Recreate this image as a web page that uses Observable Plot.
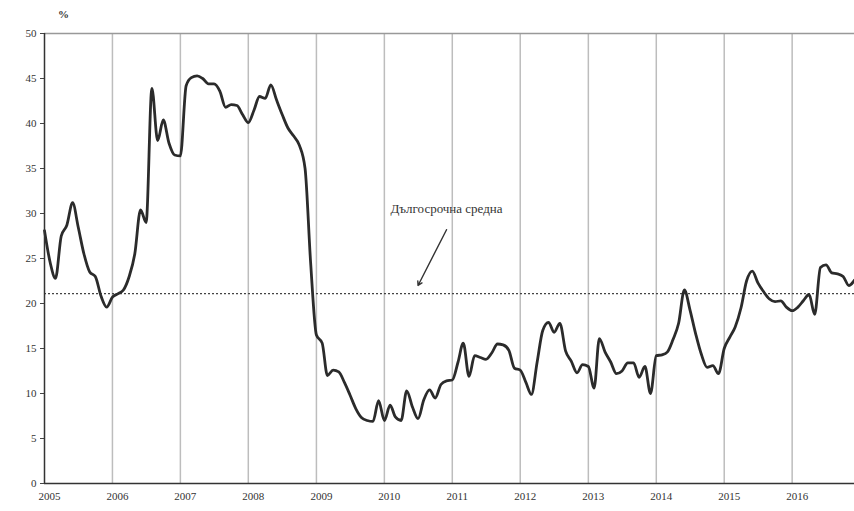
<!DOCTYPE html>
<html>
<head>
<meta charset="utf-8">
<script src="https://cdn.jsdelivr.net/npm/d3@7"></script>
<script src="https://cdn.jsdelivr.net/npm/@observablehq/plot@0.6"></script>
<style>
  html, body { margin: 0; padding: 0; background: #fff; }
  #chart { position: relative; width: 854px; height: 511px; }
  #pct { position: absolute; left: 58px; top: 8px; font: bold 11px "Liberation Serif", serif; color: #333; }
</style>
</head>
<body>
<div id="chart"><div id="pct">%</div></div>
<script>
// Monthly values, Jan 2005 .. Dec 2016 (%)
const startYear = 2005;
const values = [
  // 2005
  28.1, 24.5, 22.8, 27.5, 28.7, 31.2, 28.5, 25.5, 23.5, 23.0, 20.8, 19.6,
  // 2006
  20.7, 21.1, 21.5, 23.0, 25.5, 30.4, 29.0, 43.9, 38.1, 40.4, 37.8, 36.5,
  // 2007
  36.4, 44.2, 45.1, 45.3, 45.0, 44.4, 44.4, 43.6, 41.8, 42.1, 42.0, 41.0,
  // 2008
  40.1, 41.5, 43.0, 42.8, 44.3, 42.6, 41.0, 39.5, 38.6, 37.6, 35.0, 24.5,
  // 2009
  16.5, 15.6, 12.0, 12.6, 12.4, 11.2, 9.8, 8.3, 7.3, 7.0, 6.9, 9.2,
  // 2010
  7.0, 8.7, 7.4, 7.0, 10.3, 8.5, 7.2, 9.3, 10.4, 9.5, 11.0, 11.4,
  // 2011
  11.5, 13.5, 15.6, 11.9, 14.2, 14.0, 13.8, 14.5, 15.5, 15.4, 14.8, 12.8,
  // 2012
  12.6, 11.2, 9.9, 13.5, 17.0, 17.9, 16.8, 17.8, 14.7, 13.6, 12.3, 13.2,
  // 2013
  13.0, 10.6, 16.1, 14.6, 13.5, 12.2, 12.5, 13.4, 13.4, 11.8, 13.0, 10.0,
  // 2014
  14.2, 14.3, 14.6, 16.0, 17.8, 21.5, 19.3, 16.6, 14.3, 12.9, 13.1, 12.2,
  // 2015
  15.0, 16.3, 17.4, 19.5, 22.5, 23.6, 22.3, 21.3, 20.5, 20.2, 20.3, 19.6,
  // 2016
  19.2, 19.6, 20.3, 21.0, 18.8, 24.0, 24.3, 23.4, 23.3, 23.0, 22.0, 22.6
];
const yearTicks = [2005, 2006, 2007, 2008, 2009, 2010, 2011, 2012, 2013, 2014, 2015, 2016];
const yTicks = [0, 5, 10, 15, 20, 25, 30, 35, 40, 45, 50];
const longTermAverage = 21.1;
const averageLabel = "Дългосрочна средна";
// annotation anchor points (month index from Jan 2005, value)
const labelPoint = [{m: 71, v: 30.5}];
const arrowPoints = [{m1: 71, v1: 28.2, m2: 66, v2: 22.0}];

const monthDate = m => new Date(startYear, m, 1);
const series = values.map((v, i) => ({date: monthDate(i), value: v}));
const yearDates = yearTicks.map(y => new Date(y, 0, 1));

const serif = '"Liberation Serif", "DejaVu Serif", serif';

const chart = Plot.plot({
  width: 854,
  height: 511,
  marginTop: 33,
  marginBottom: 28,
  marginLeft: 44,
  marginRight: 0,
  style: {fontFamily: serif, fontSize: "11px", color: "#333", background: "#fff"},
  x: {type: "utc", domain: [monthDate(0), monthDate(values.length - 1)]},
  y: {domain: [0, 50]},
  marks: [
    Plot.ruleX(yearDates.slice(1), {stroke: "#bdbdbd", strokeWidth: 1.5}),
    Plot.ruleY([50], {stroke: "#999", strokeWidth: 1.5}),
    Plot.ruleY([longTermAverage], {stroke: "#444", strokeWidth: 1.3, strokeDasharray: "2,2"}),
    Plot.axisY({ticks: yTicks, tickSize: 4, tickPadding: 4, label: null, fontSize: 11, stroke: "#444"}),
    Plot.axisX({ticks: yearDates, tickSize: 0, tickPadding: 9, dx: 5, tickFormat: d => String(d.getFullYear()), label: null, fontSize: 11}),
    Plot.line(series, {x: "date", y: "value", stroke: "#2b2b2b", strokeWidth: 2.8, curve: "monotone-x"}),
    Plot.ruleY([0], {stroke: "#333", strokeWidth: 1.5}),
    Plot.ruleX([monthDate(0)], {stroke: "#333", strokeWidth: 1.5}),
    Plot.text(labelPoint, {x: d => monthDate(d.m), y: "v", text: () => averageLabel, fontSize: 13, fill: "#333"}),
    Plot.arrow(arrowPoints, {x1: d => monthDate(d.m1), y1: "v1", x2: d => monthDate(d.m2), y2: "v2", stroke: "#333", strokeWidth: 1.4, headLength: 5})
  ]
});
document.getElementById("chart").appendChild(chart);
</script>
</body>
</html>
